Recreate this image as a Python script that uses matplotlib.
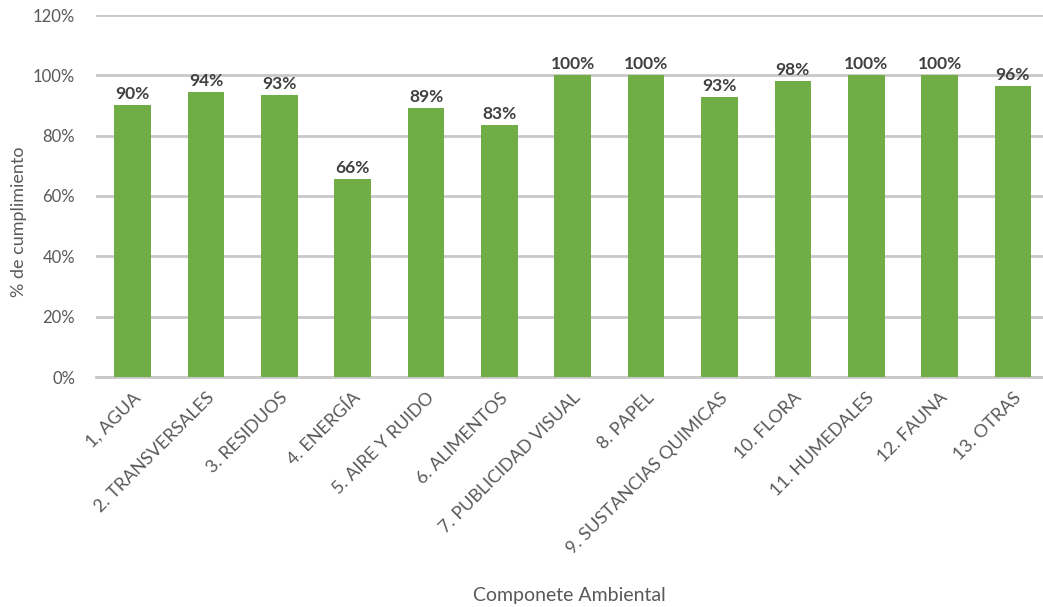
import matplotlib.pyplot as plt
import numpy as np

componentes = ['1, AGUA', '2. TRANSVERSALES', '3. RESIDUOS', '4. ENERGÍA', '5. AIRE Y RUIDO',
               '6. ALIMENTOS', '7. PUBLICIDAD VISUAL', '8. PAPEL', '9. SUSTANCIAS QUIMICAS',
               '10. FLORA', '11. HUMEDALES', '12. FAUNA', '13. OTRAS']
cumplimiento = [90.1, 94.4, 93.4, 65.6, 89.2, 83.4, 100, 100, 92.8, 98.1, 100, 100, 96.4]
y_ticks = [0, 20, 40, 60, 80, 100, 120]

plt.rcParams['font.family'] = ['Lato', 'DejaVu Sans']

fig = plt.figure(figsize=(10.43, 6.07), dpi=100)
ax = fig.add_axes([96 / 1043, 1 - 377 / 607, 1 - 96 / 1043, (377 - 15) / 607])

x = np.arange(len(componentes))
bars = ax.bar(x, cumplimiento, width=0.5, color='#70AD47', zorder=3)

for b, v in zip(bars, cumplimiento):
    ax.text(b.get_x() + b.get_width() / 2, v + 1.0, '{:.0f}%'.format(v),
            ha='center', va='bottom', fontsize=12.5, fontweight='bold', color='#404040')

ax.set_xlim(-0.5, 12.41)
ax.set_ylim(0, 120)
ax.set_yticks(y_ticks)
ax.set_yticklabels(['{}%'.format(t) for t in y_ticks])
ax.yaxis.grid(True, color='#C8C8C8', linewidth=2, zorder=0)
for s in ['top', 'right', 'left']:
    ax.spines[s].set_visible(False)
ax.spines['bottom'].set_color('#C8C8C8')
ax.spines['bottom'].set_linewidth(2)
ax.tick_params(axis='both', length=0, colors='#595959')
ax.tick_params(axis='y', pad=15, labelsize=12)
ax.tick_params(axis='x', pad=9)
ax.set_xticks(x)
ax.set_xticklabels(componentes, rotation=45, ha='right', rotation_mode='anchor', fontsize=13)

ax.set_ylabel('% de cumplimiento', fontsize=13, color='#595959')
ax.yaxis.set_label_coords(-0.073, 0.43)
ax.set_xlabel('Componete Ambiental', fontsize=14, color='#595959', labelpad=22)

fig.savefig('out.png', dpi=100)
